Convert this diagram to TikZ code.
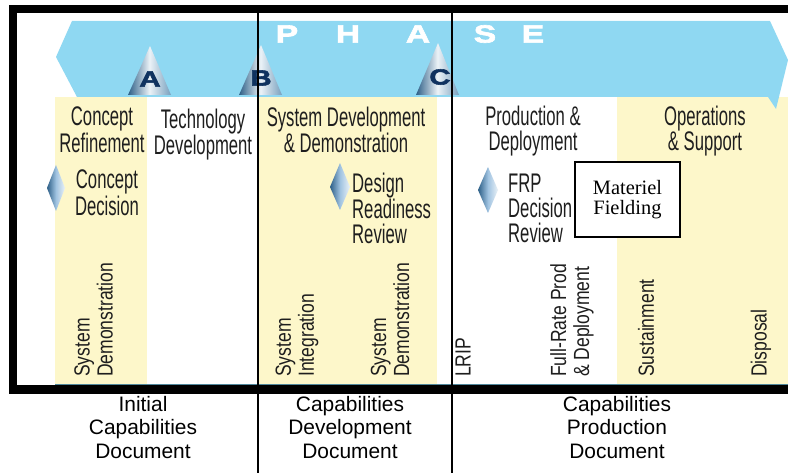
\documentclass[tikz,border=0pt]{standalone}
\usepackage{fontspec}
\setmainfont{Liberation Sans}
\newfontfamily\condf[FakeStretch=0.62]{Liberation Sans}
\newfontfamily\rotf[FakeStretch=0.8]{Liberation Sans}
\newfontfamily\widebf[FakeStretch=1.35,FakeBold=2.5]{Liberation Sans Bold}
\newfontfamily\timesf{Liberation Serif}
\definecolor{band}{RGB}{143,216,242}
\definecolor{paleyellow}{RGB}{253,247,202}
\definecolor{conedark}{RGB}{45,95,135}
\definecolor{conelight}{RGB}{235,242,247}
\definecolor{coneright}{RGB}{120,160,190}
\definecolor{gemmid}{RGB}{160,195,225}
\definecolor{navy}{RGB}{15,50,95}
\definecolor{ink}{RGB}{30,30,30}
\definecolor{edgeteal}{RGB}{80,135,155}
\begin{document}
\begin{tikzpicture}[x=1bp,y=-1bp,
  lbl/.style={font=\condf\fontsize{27}{25}\selectfont, text=ink, inner sep=0, align=center, anchor=north},
  lbll/.style={lbl, align=left, anchor=north west},
  rot/.style={font=\rotf\fontsize{22}{23}\selectfont, text=ink, inner sep=0, align=left, rotate=90, anchor=west},
  doc/.style={font=\fontsize{21}{23.5}\selectfont, text=black, inner sep=0, align=center, anchor=north},
  cone/.style={left color=conedark, right color=coneright, middle color=conelight},
  gem/.style={left color=conedark, right color=conelight, middle color=gemmid},
  mslbl/.style={font=\widebf\fontsize{22}{22}\selectfont, text=navy, inner sep=0},
  phase/.style={font=\widebf\fontsize{25}{25}\selectfont, text=white, inner sep=0},
  frame/.style={fill=black},
  divider/.style={line width=2bp, draw=black}
]
\useasboundingbox (0,0) rectangle (788,473);
\fill[white] (0,0) rectangle (788,473);
% columns
\fill[paleyellow] (55,97) rectangle (147,385);
\fill[paleyellow] (258,97) rectangle (437,385);
\fill[paleyellow] (617,97) rectangle (788,385);
% phase band
\fill[band] (72,21) -- (770,21) -- (788,60) -- (776,109) -- (768,97) -- (77,97) -- (56,57) -- cycle;
% milestone cones
\path[cone] (150,46) -- (171,95) -- (128,95) -- cycle;
\path[cone] (261,45) -- (282,95) -- (239,95) -- cycle;
\path[cone] (438,43) -- (459,95) -- (416,95) -- cycle;
\node[mslbl] (msA) at (150,79) {A};
\node[mslbl] (msB) at (261,78) {B};
\node[mslbl] (msC) at (440,77) {C};
% PHASE
\node[phase] (pP) at (287,34) {P};
\node[phase] (pH) at (348,34) {H};
\node[phase] (pA) at (418,34) {A};
\node[phase] (pS) at (485,34) {S};
\node[phase] (pE) at (533,34) {E};
% bottom edge line
\draw[edgeteal, line width=1bp] (55,384) -- (788,384);
% frame
\fill[frame] (9,5) rectangle (788,13);
\fill[frame] (9,5) rectangle (17,394);
\fill[frame] (9,385) rectangle (788,394);
% dividers
\draw[divider] (258,13) -- (258,473);
\draw[divider] (452,13) -- (452,473);
% upper labels
\node[lbl] (cr) at (102,107) {Concept\\Refinement};
\node[lbl] (td) at (203,109) {Technology\\Development};
\node[lbl] (cd) at (107,170) {Concept\\Decision};
\node[lbl] (sdd) at (346,107) {System Development\\\& Demonstration};
\node[lbll] (drr) at (352,173) {Design\\Readiness\\Review};
\node[lbl] (pd) at (533,106) {Production \&\\Deployment};
\node[lbll] (frp) at (508,174) {FRP\\Decision\\Review};
\node[lbl] (os) at (705,106) {Operations\\\& Support};
% decision diamonds
\path[gem] (56,165) -- (65,188) -- (56,211) -- (47,188) -- cycle;
\path[gem] (340,163) -- (350,187) -- (340,210) -- (330,187) -- cycle;
\path[gem] (488,167) -- (498,190) -- (488,213) -- (478,190) -- cycle;
% materiel fielding box
\node[draw, line width=1.5bp, fill=white, minimum width=105bp, minimum height=75bp, inner sep=0, align=center, font=\timesf\fontsize{20.5}{20}\selectfont] (mf) at (627.5,199.5) {Materiel\\Fielding};
% rotated activities
\node[rot] (sd1) at (93.5,377) {System\\Demonstration};
\node[rot] (si) at (297,377) {System\\Integration};
\node[rot] (sd2) at (390,377) {System\\Demonstration};
\node[rot] (lrip) at (463,377) {LRIP};
\node[rot] (frpd) at (572,377) {Full-Rate Prod\\\& Deployment};
\node[rot] (sus) at (646,377) {Sustainment};
\node[rot] (dis) at (761,377) {Disposal};
% documents
\node[doc] (icd) at (143,396) {Initial\\Capabilities\\Document};
\node[doc] (cdd) at (350,396) {Capabilities\\Development\\Document};
\node[doc] (cpd) at (617,396) {Capabilities\\Production\\Document};
\end{tikzpicture}
\end{document}
